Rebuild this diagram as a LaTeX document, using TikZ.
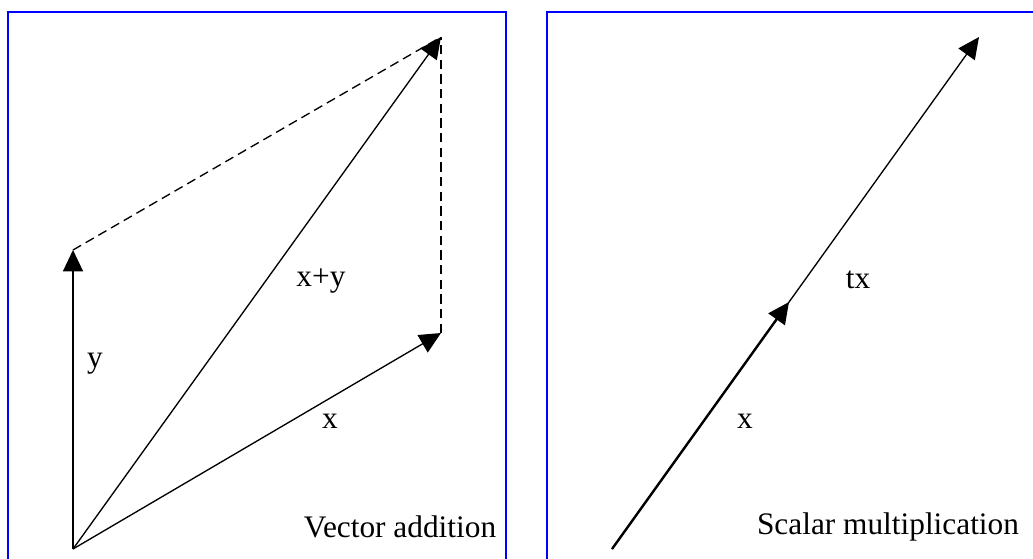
\documentclass[tikz,border=0pt]{standalone}
\usepackage{fontspec}
\setmainfont{Liberation Serif}
\usetikzlibrary{arrows.meta}

\begin{document}
\begin{tikzpicture}[x=0.75pt,y=-0.75pt,
 frame/.style={draw=blue,line width=1.5pt},
 vec/.style={-{Triangle[length=16pt,width=15pt]},line width=1pt},
 thickvec/.style={-{Triangle[length=16pt,width=15pt]},line width=1.8pt},
 guide/.style={line width=1pt,dash pattern=on 7pt off 4pt},
 lab/.style={font=\fontsize{23.5}{27}\selectfont,inner sep=0pt}]
\useasboundingbox (0,0) rectangle (1033,558);
\clip (0,0) rectangle (1033,558);
% panels
\draw[frame] (8,12) rectangle (506,580);
\draw[frame] (547,12) rectangle (1050,580);
% vector addition
\coordinate (o1) at (73,549);
\coordinate (y1) at (73,250);
\coordinate (x1) at (441,333);
\coordinate (s1) at (441,37);
\draw[guide] (y1) -- (s1);
\draw[guide] (x1) -- (s1);
\draw[vec] (o1) -- (y1);
\draw[vec] (o1) -- (x1);
\draw[vec] (o1) -- (s1);
\node[lab] (ly) at (95,364) {y};
\node[lab] (lxy) at (321,281) {x+y};
\node[lab] (lx1) at (330,421) {x};
\node[lab] (ladd) at (400,527) {Vector addition};
% scalar multiplication
\coordinate (o2) at (612,549);
\coordinate (x2) at (789,302);
\coordinate (t2) at (979,37);
\draw[vec] (o2) -- (t2);
\draw[thickvec] (o2) -- (x2);
\node[lab] (ltx) at (858,280) {tx};
\node[lab] (lx2) at (745,421) {x};
\node[lab] (lmul) at (888,527) {Scalar multiplication};
\end{tikzpicture}
\end{document}
